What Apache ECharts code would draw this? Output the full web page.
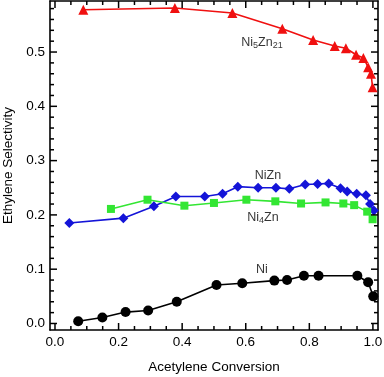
<!DOCTYPE html>
<html><head><meta charset="utf-8">
<script src="https://cdn.jsdelivr.net/npm/echarts@6/dist/echarts.min.js"></script>
<style>html,body{margin:0;padding:0;background:#fff}#c{width:384px;height:377px}</style>
</head><body><div id="c"></div>
<script>
const ni5zn21X = [0.089,0.377,0.558,0.715,0.812,0.880,0.915,0.947,0.970,0.985,0.994,0.999];
const ni5zn21Y = [0.578,0.581,0.572,0.543,0.522,0.511,0.507,0.495,0.489,0.472,0.460,0.435];
const nizX = [0.045,0.215,0.311,0.380,0.471,0.527,0.575,0.639,0.695,0.737,0.787,0.826,0.861,0.898,0.919,0.949,0.978,0.991,1.003];
const nizY = [0.185,0.194,0.216,0.234,0.234,0.239,0.252,0.250,0.250,0.248,0.256,0.257,0.258,0.249,0.243,0.239,0.236,0.220,0.208];
const ni4znX = [0.176,0.291,0.407,0.500,0.602,0.693,0.774,0.851,0.907,0.941,0.982,0.999];
const ni4znY = [0.211,0.228,0.217,0.222,0.228,0.225,0.221,0.223,0.221,0.218,0.206,0.192];
const niX = [0.073,0.149,0.222,0.293,0.383,0.508,0.589,0.690,0.730,0.783,0.829,0.951,0.985,1.001];
const niY = [0.004,0.011,0.021,0.024,0.040,0.071,0.074,0.079,0.080,0.088,0.088,0.088,0.076,0.050];

const xMajorTicks = [0,0.2,0.4,0.6,0.8,1.0];
const xMinorTicks = [0,0.05,0.1,0.15,0.2,0.25,0.3,0.35,0.4,0.45,0.5,0.55,0.6,0.65,0.7,0.75,0.8,0.85,0.9,0.95,1.0];
const yMajorTicks = [0,0.1,0.2,0.3,0.4,0.5];
const yMinorTicks = [0,0.02,0.04,0.06,0.08,0.1,0.12,0.14,0.16,0.18,0.2,0.22,0.24,0.26,0.28,0.3,0.32,0.34,0.36,0.38,0.4,0.42,0.44,0.46,0.48,0.5,0.52,0.54,0.56,0.58];

const labelNames = ['Ni5Zn21','NiZn','Ni4Zn','Ni'];
const labelX = [0.651,0.670,0.654,0.651];
const labelY = [0.518,0.273,0.196,0.0985];
const labelText = ['Ni{s|5}Zn{s|21}','NiZn','Ni{s|4}Zn','Ni'];

const XMIN=-0.0157, XMAX=1.016, YMIN=-0.012, YMAX=0.594;
const FONT='Liberation Sans';
const axLine={show:true,onZero:false,lineStyle:{color:'#000',width:1.6}};

function xAx(pos, lbl, name){
  return {type:'value',position:pos,min:XMIN,max:XMAX,
    name:name||'',nameLocation:'middle',nameGap:30,
    nameTextStyle:{fontFamily:FONT,fontSize:13.5,color:'#000'},
    axisLine:axLine,splitLine:{show:false},axisTick:{show:false},
    axisLabel:{show:lbl,customValues:xMajorTicks,margin:5,fontFamily:FONT,fontSize:13.5,color:'#000',formatter:v=>v.toFixed(1)}};
}
function yAx(pos, lbl, name){
  return {type:'value',position:pos,min:YMIN,max:YMAX,
    name:name||'',nameLocation:'middle',nameGap:27,
    nameTextStyle:{fontFamily:FONT,fontSize:13.5,color:'#000'},
    axisLine:axLine,splitLine:{show:false},axisTick:{show:false},
    axisLabel:{show:lbl,customValues:yMajorTicks,margin:5,fontFamily:FONT,fontSize:13.5,color:'#000',formatter:v=>v.toFixed(1)}};
}
function pts(xs,ys){return xs.map((x,i)=>[x,ys[i]]);}
function ser(name,xs,ys,color,symbol,size){
  return {type:'line',name,data:pts(xs,ys),xAxisIndex:0,yAxisIndex:0,
    symbol,symbolSize:size,showAllSymbol:true,
    lineStyle:{color,width:1.6},itemStyle:{color},z:3,animation:false};
}
const tickStyle={stroke:'#000',lineWidth:1.5};
function tickSeries(vals, majors, isX){
  return {type:'custom',xAxisIndex:0,yAxisIndex:0,silent:true,clip:false,z:6,
    data:vals.map(v=>[v, majors.some(m=>Math.abs(m-v)<1e-9)?1:0]),
    renderItem:function(params, api){
      const v=api.value(0), L=api.value(1)?7:4;
      if(isX){
        const b=api.coord([v,YMIN]), t=api.coord([v,YMAX]);
        return {type:'group',children:[
          {type:'line',shape:{x1:b[0],y1:b[1],x2:b[0],y2:b[1]-L},style:tickStyle},
          {type:'line',shape:{x1:t[0],y1:t[1],x2:t[0],y2:t[1]+L},style:tickStyle}]};
      } else {
        const l=api.coord([XMIN,v]), r=api.coord([XMAX,v]);
        return {type:'group',children:[
          {type:'line',shape:{x1:l[0],y1:l[1],x2:l[0]+L,y2:l[1]},style:tickStyle},
          {type:'line',shape:{x1:r[0],y1:r[1],x2:r[0]-L,y2:r[1]},style:tickStyle}]};
      }
    }};
}

const chart = echarts.init(document.getElementById('c'),null,{renderer:'canvas'});
chart.setOption({
  animation:false,
  grid:{left:50,right:6,top:1,bottom:47,containLabel:false,outerBoundsMode:'none'},
  xAxis:[xAx('bottom',true,'Acetylene Conversion'),xAx('top',false)],
  yAxis:[yAx('left',true,'Ethylene Selectivity'),yAx('right',false)],
  series:[
    tickSeries(xMinorTicks,xMajorTicks,true),
    tickSeries(yMinorTicks,yMajorTicks,false),
    ser('Ni5Zn21',ni5zn21X,ni5zn21Y,'#f01010','triangle',10),
    ser('NiZn',nizX,nizY,'#1414d8','diamond',10),
    ser('Ni4Zn',ni4znX,ni4znY,'#33e633','rect',8),
    ser('Ni',niX,niY,'#000','circle',10),
    {type:'scatter',xAxisIndex:0,yAxisIndex:0,symbolSize:0,silent:true,z:5,
     data:labelNames.map((n,i)=>({name:n,value:[labelX[i],labelY[i]],
       label:{show:true,position:'inside',formatter:labelText[i],
         fontFamily:FONT,fontSize:12.5,color:'#000',
         rich:{s:{fontFamily:FONT,fontSize:9,color:'#000',verticalAlign:'bottom',padding:[6,0,0,0]}}}}))}
  ]
});
</script></body></html>
